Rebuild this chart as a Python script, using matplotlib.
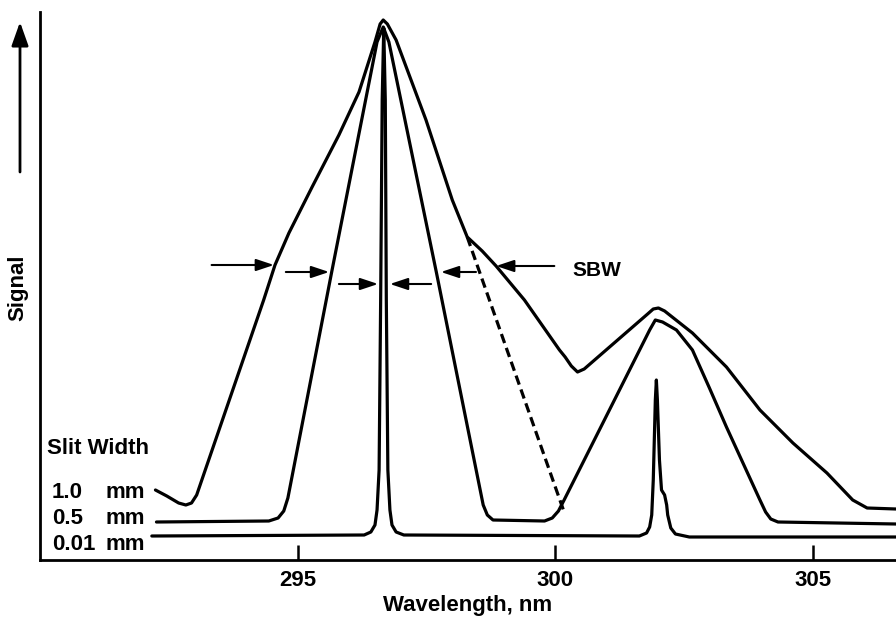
import matplotlib
matplotlib.use("Agg")
import matplotlib.pyplot as plt

plt.rcParams['font.family'] = ['Liberation Sans', 'DejaVu Sans']
plt.rcParams['font.weight'] = 'bold'

# ---- data (wavelength in nm, signal in arbitrary units) ----
wl_001 = [292.17, 296.29, 296.42, 296.50, 296.54, 296.58, 296.61, 296.64, 296.67,
          296.70, 296.72, 296.75, 296.79, 296.83, 296.91, 297.06,
          301.63, 301.77, 301.83, 301.87, 301.90, 301.94, 301.96, 301.98, 302.02,
          302.06, 302.12, 302.16, 302.18, 302.24, 302.33, 302.60, 306.61]
sig_001 = [24, 25, 28, 35, 50, 90, 260, 460, 532,
           460, 260, 90, 50, 35, 28, 25,
           24, 27, 33, 45, 80, 160, 180, 160, 100,
           70, 65, 55, 45, 32, 26, 23, 23]

wl_05 = [292.26, 294.44, 294.62, 294.73, 294.81, 295.66, 296.54, 296.66, 296.77,
         297.69, 298.60, 298.68, 298.79, 299.79, 299.94, 300.06, 300.17,
         301.83, 301.94, 302.08, 302.35, 302.66, 302.99, 303.32, 303.97,
         304.08, 304.18, 304.32, 306.61]
sig_05 = [38, 39, 42, 49, 62, 288, 518, 533, 518,
          288, 55, 45, 40, 39, 42, 49, 60,
          230, 240, 238, 230, 210, 172, 133, 60,
          48, 41, 38, 36]

wl_10 = [292.24, 292.46, 292.69, 292.83, 292.94, 293.04, 294.34, 294.56, 294.83,
         295.28, 295.80, 296.19, 296.50, 296.60, 296.66, 296.74, 296.91, 297.49,
         298.00, 298.29, 298.58, 298.85, 299.40, 300.08, 300.19, 300.31, 300.43,
         300.56, 301.79, 301.90, 302.00, 302.12, 302.66, 303.32, 303.97, 304.61,
         305.27, 305.77, 306.05, 306.61]
sig_10 = [70, 64, 57, 55, 57, 65, 260, 295, 327,
          373, 425, 468, 518, 536, 540, 536, 520, 440,
          360, 323, 309, 294, 260, 210, 203, 194, 188,
          191, 246, 251, 252, 249, 227, 193, 150, 117,
          87, 60, 52, 51]

# dashed extrapolation of the 1.0 mm peak flank
wl_dash = [298.29, 300.17]
sig_dash = [323, 48]

# SBW arrows: (start wavelength, end wavelength, signal level)
arrow_start = [293.33, 294.77, 295.80, 297.59, 298.46, 299.98]
arrow_end = [294.54, 295.61, 296.56, 296.79, 297.78, 298.85]
arrow_level = [295, 288, 276, 276, 288, 294]

xticks = [295, 300, 305]
slit_numbers = ["1.0", "0.5", "0.01"]
slit_units = ["mm", "mm", "mm"]

# ---- figure ----
W, H = 896, 618
fig = plt.figure(figsize=(W / 100, H / 100), dpi=100)
ax = fig.add_axes([40 / W, 1 - 560 / H, (W - 40) / W, (560 - 12) / H])

lw = 2.3
for x, y in [(wl_001, sig_001), (wl_05, sig_05), (wl_10, sig_10)]:
    ax.plot(x, y, color='black', lw=lw, solid_joinstyle='round', solid_capstyle='round')
ax.plot(wl_dash, sig_dash, color='black', lw=lw, ls=(0, (3.0, 1.6)))

for xs, xe, yl in zip(arrow_start, arrow_end, arrow_level):
    ax.annotate('', xy=(xe, yl), xytext=(xs, yl),
                arrowprops=dict(arrowstyle='-|>,head_length=0.9,head_width=0.3',
                                mutation_scale=12, lw=1.5, color='black',
                                shrinkA=0, shrinkB=0))

ax.set_xlim(290.0, 306.61)
ax.set_ylim(0, 548)
ax.set_yticks([])
ax.set_xticks(xticks)
ax.set_xticklabels([str(t) for t in xticks], fontsize=16, fontweight='bold')
ax.tick_params(axis='x', direction='in', length=10.8, width=1.8, pad=7)
for s in ['top', 'right']:
    ax.spines[s].set_visible(False)
for s in ['left', 'bottom']:
    ax.spines[s].set_linewidth(2.0)
ax.set_xlabel("Wavelength, nm", fontsize=16, fontweight='bold', labelpad=3)

def fx(px):
    return px / W

def fy(py):
    return 1 - py / H

fig.text(fx(572), fy(270), "SBW", fontsize=15, fontweight='bold',
         ha='left', va='center')

fig.text(fx(18), fy(288), "Signal", rotation=90, fontsize=16, fontweight='bold',
         ha='center', va='center')
fig.add_artist(matplotlib.patches.FancyArrowPatch(
    (fx(20), fy(172)), (fx(20), fy(22)), transform=fig.transFigure,
    arrowstyle='-|>,head_length=0.9,head_width=0.32', mutation_scale=16,
    lw=2.0, color='black', shrinkA=0, shrinkB=0))

fig.text(fx(47), fy(449), "Slit Width", fontsize=16, fontweight='bold',
         ha='left', va='center')
for num, unit, py in zip(slit_numbers, slit_units, [492, 519, 545]):
    fig.text(fx(52), fy(py), num, fontsize=16, fontweight='bold', ha='left', va='center')
    fig.text(fx(105), fy(py), unit, fontsize=16, fontweight='bold', ha='left', va='center')

fig.savefig("out.png", dpi=100)
